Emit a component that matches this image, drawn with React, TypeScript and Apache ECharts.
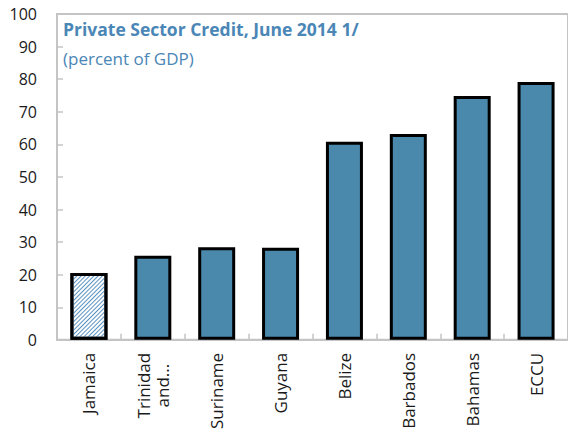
import React, { useEffect, useRef } from "react";
import * as echarts from "echarts";

const categories = ["Jamaica", "Trinidad\nand...", "Suriname", "Guyana", "Belize", "Barbados", "Bahamas", "ECCU"];
const values = [20.5, 25.8, 28.4, 28.3, 60.8, 63.2, 74.8, 79.1];
const hatchedCategories = ["Jamaica"];
const yMin = 0;
const yMax = 100;
const yInterval = 10;
const titleText = "Private Sector Credit, June 2014 1/";
const subtitleText = "(percent of GDP)";

const FONT = "Open Sans";
const BLUE = "#4a89ab";
const TITLE_BLUE = "#4a86b6";
const GRAY = "#c4c4c4";

export default function App() {
  const ref = useRef<HTMLDivElement>(null);
  useEffect(() => {
    if (!ref.current) return;
    const chart = echarts.init(ref.current, null, { renderer: "svg" });
    const data = categories.map((c, i) => {
      if (hatchedCategories.includes(c)) {
        return {
          value: values[i],
          itemStyle: {
            color: "#ffffff",
            decal: {
              symbol: "rect",
              color: "#5a92c0",
              dashArrayX: [1, 0],
              dashArrayY: [1, 1.5],
              rotation: -Math.PI / 4,
              symbolSize: 1,
            },
          },
        };
      }
      return { value: values[i] };
    });
    chart.setOption({
      animation: false,
      grid: {
        left: 57,
        right: -4,
        top: 14,
        bottom: 90,
        show: true,
        borderColor: GRAY,
        borderWidth: 2,
        containLabel: false,
      },
      graphic: [
        {
          type: "text",
          left: 63,
          top: 20,
          style: {
            text: titleText,
            fill: TITLE_BLUE,
            font: `bold 17.5px '${FONT}'`,
          },
        },
        {
          type: "text",
          left: 63,
          top: 50,
          style: {
            text: subtitleText,
            fill: TITLE_BLUE,
            font: `17px '${FONT}'`,
          },
        },
      ],
      xAxis: {
        type: "category",
        data: categories,
        axisLine: { show: true, lineStyle: { color: GRAY, width: 2 } },
        axisTick: { show: true, inside: true, length: 6, lineStyle: { color: GRAY, width: 1.5 } },
        axisLabel: {
          rotate: 90,
          margin: 13,
          interval: 0,
          fontSize: 17,
          fontFamily: FONT,
          color: "#1a1a1a",
          lineHeight: 19,
          formatter: (v: string) =>
            v.includes("\n") ? v.split("\n").map((l) => `{c|${l}}`).join("\n") : v,
          rich: {
            c: { align: "center", fontSize: 17, fontFamily: FONT, color: "#1a1a1a", lineHeight: 19 },
          },
        },
      },
      yAxis: {
        type: "value",
        min: yMin,
        max: yMax,
        interval: yInterval,
        splitLine: { show: false },
        axisLine: { show: true, lineStyle: { color: GRAY, width: 2 } },
        axisTick: { show: true, inside: true, length: 6, lineStyle: { color: GRAY, width: 1.5 } },
        axisLabel: { fontSize: 16, fontFamily: FONT, color: "#1a1a1a", margin: 20 },
      },
      series: [
        {
          type: "bar",
          data,
          barWidth: 37,
          itemStyle: { color: BLUE, borderColor: "#000000", borderWidth: 3 },
        },
      ],
    });
    return () => chart.dispose();
  }, []);
  return (
    <div
      ref={ref}
      style={{ position: "fixed", left: 0, top: 0, width: 568, height: 432, background: "#fff" }}
    />
  );
}
